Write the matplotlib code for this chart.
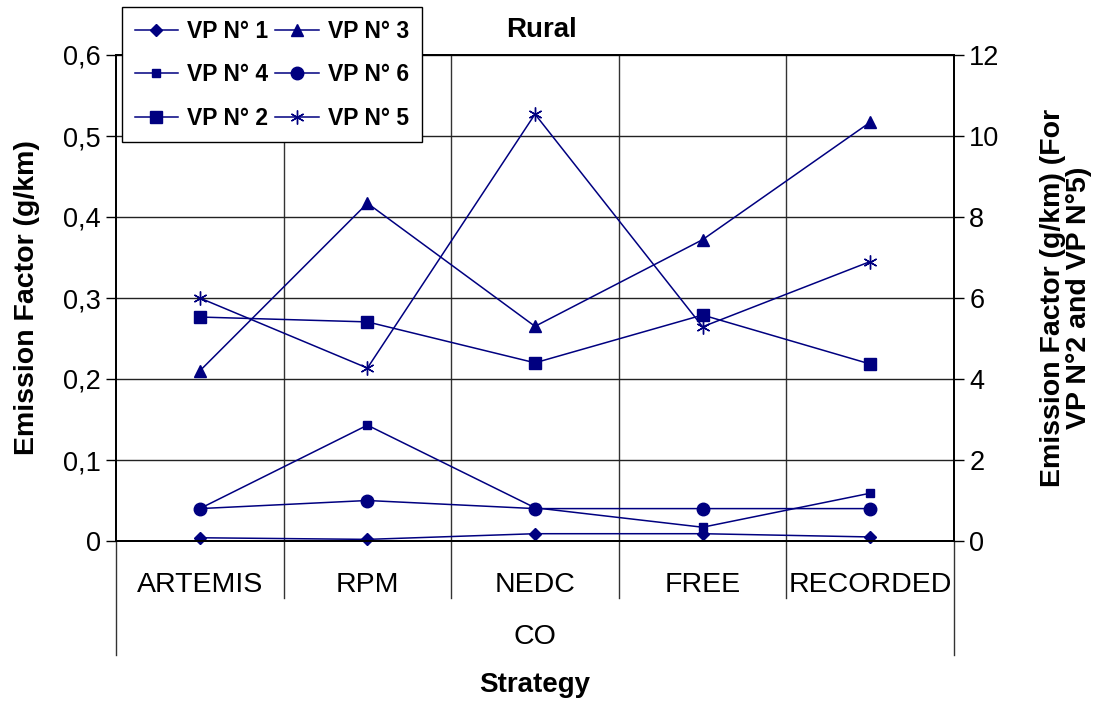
import matplotlib.pyplot as plt

plt.rcParams['font.family'] = ['Liberation Sans', 'DejaVu Sans']

strategies = ["ARTEMIS", "RPM", "NEDC", "FREE", "RECORDED"]
group_label = "CO"

# left axis (g/km)
vp1 = [0.004, 0.002, 0.009, 0.009, 0.005]
vp3 = [0.210, 0.417, 0.265, 0.372, 0.517]
vp4 = [0.040, 0.143, 0.041, 0.017, 0.059]
vp6 = [0.040, 0.050, 0.040, 0.040, 0.040]
# right axis (g/km), VP 2 and VP 5
vp2 = [5.53, 5.41, 4.40, 5.58, 4.37]
vp5 = [6.00, 4.27, 10.54, 5.29, 6.90]

left_ticks = [0, 0.1, 0.2, 0.3, 0.4, 0.5, 0.6]
left_tick_labels = ["0", "0,1", "0,2", "0,3", "0,4", "0,5", "0,6"]
right_ticks = [0, 2, 4, 6, 8, 10, 12]

navy = "#000080"
W, H = 1096, 704

fig = plt.figure(figsize=(W / 100, H / 100), dpi=100)
ax = fig.add_axes([116 / W, 1 - 541 / H, 838 / W, 486 / H])
ax2 = ax.twinx()

x = list(range(len(strategies)))
kw = dict(color=navy, lw=1.1, clip_on=False)
l1, = ax.plot(x, vp1, marker="D", ms=6, **kw)
l3, = ax.plot(x, vp3, marker="^", ms=8.5, **kw)
l4, = ax.plot(x, vp4, marker="s", ms=5.5, **kw)
l6, = ax.plot(x, vp6, marker="o", ms=9, **kw)
l2, = ax2.plot(x, vp2, marker="s", ms=8, **kw)
l5, = ax2.plot(x, vp5, marker=(6, 2, 0), ms=10, mew=1.0, **kw)

ax.set_xlim(-0.5, len(strategies) - 0.5)
ax.set_ylim(0, 0.6)
ax2.set_ylim(0, 12)

ax.set_yticks(left_ticks, left_tick_labels)
ax2.set_yticks(right_ticks, [str(t) for t in right_ticks])
ax.tick_params(axis="y", labelsize=19.5, length=7, width=1, direction="out", pad=4)
ax2.tick_params(axis="y", labelsize=19.5, length=7, width=1, direction="out", pad=4)

# category labels
ax.set_xticks(x, strategies)
ax.tick_params(axis="x", which="major", length=0, labelsize=20.5, pad=22)
ax.set_xticks([i + 0.5 for i in x[:-1]], minor=True)
ax.tick_params(axis="x", which="minor", length=0)

ax.grid(True, axis="y", which="major", color="#222222", lw=1.0)
ax.grid(True, axis="x", which="minor", color="#333333", lw=1.0)
ax.set_axisbelow(True)

for a in (ax, ax2):
    for s in a.spines.values():
        s.set_color("black")
        s.set_linewidth(1.3)

# category separators and group frame below the axis
tr = ax.get_xaxis_transform()
for b in [i + 0.5 for i in x[:-1]]:
    ax.plot([b, b], [0, -57 / 486], transform=tr, color="#333333", lw=1, clip_on=False)
for b in [-0.5, len(strategies) - 0.5]:
    ax.plot([b, b], [0, -114 / 486], transform=tr, color="#333333", lw=1, clip_on=False)
ax.text(0.5, -96 / 486, group_label, transform=ax.transAxes, ha="center", va="center", fontsize=20.5)

fig.text(535 / W, 1 - 685 / H, "Strategy", ha="center", va="center", fontsize=20, fontweight="bold")
fig.text(27 / W, 1 - 298 / H, "Emission Factor (g/km)", ha="center", va="center",
         rotation=90, fontsize=20.5, fontweight="bold")
fig.text(1066 / W, 1 - 298 / H, "Emission Factor (g/km) (For\nVP N°2 and VP N°5)", ha="center",
         va="center", rotation=90, fontsize=20.5, fontweight="bold", linespacing=1.0)
fig.text(541 / W, 1 - 30 / H, "Rural", ha="center", va="center", fontsize=20, fontweight="bold")

handles = [l1, l4, l2, l3, l6, l5]
labels = ["VP N° 1", "VP N° 4", "VP N° 2", "VP N° 3", "VP N° 6", "VP N° 5"]
leg = fig.legend(handles, labels, loc="upper left", bbox_to_anchor=(122 / W, 1 - 7 / H),
                 ncol=2, fancybox=False, edgecolor="black", framealpha=1,
                 prop={"size": 16.5, "weight": "bold"}, handlelength=1.9,
                 columnspacing=0.3, labelspacing=0.9, borderpad=0.55, handletextpad=0.4,
                 borderaxespad=0)
leg.get_frame().set_linewidth(1.0)

fig.savefig("out.png", dpi=100)
